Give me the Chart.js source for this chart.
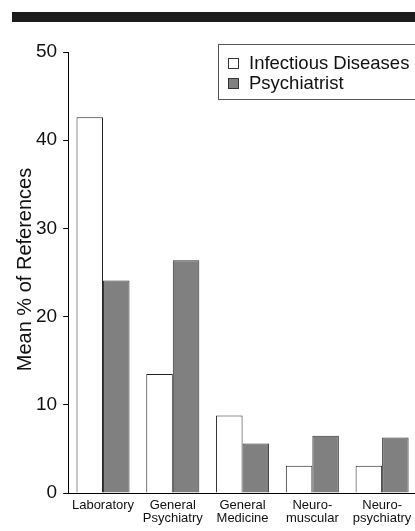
<!DOCTYPE html>
<html>
<head>
<meta charset="utf-8">
<script src="https://cdn.jsdelivr.net/npm/chart.js@4.4.1/dist/chart.umd.min.js"></script>
<style>
  html, body { margin:0; padding:0; background:#fff; overflow:hidden; }
  #wrap { position:relative; width:415px; height:531px; overflow:hidden; }
  #topbar { position:absolute; left:12px; top:12px; width:420px; height:10px; background:#1c1c1c; }
  #chart { position:absolute; left:0; top:0; }
</style>
</head>
<body>
<div id="wrap">
  <div id="topbar"></div>
  <canvas id="chart" width="440" height="531"></canvas>
</div>
<script>
// categories along the x axis (multi-line labels)
const categories = [
    ['Laboratory'],
    ['General', 'Psychiatry'],
    ['General', 'Medicine'],
    ['Neuro-', 'muscular'],
    ['Neuro-', 'psychiatry']
]
// mean % of references per speciality
const infectiousDiseases = [42.6, 13.5, 8.8, 3.1, 3.1]
const psychiatrist = [24.1, 26.4, 5.6, 6.5, 6.3]
// y axis range
const yMin = 0
const yMax = 50
const yStep = 10
const yTitle = 'Mean % of References'

const FONT = '"Liberation Sans", Arial, sans-serif'

// legend drawn as a bordered box in the top right,
// y axis title drawn rotated at a fixed x so it lines up with the original
const extras = {
    id: 'extras',
    afterDraw(chart) {
        const ctx = chart.ctx
        const area = chart.chartArea
        ctx.save()
        ctx.strokeStyle = '#555'
        ctx.lineWidth = 1
        ctx.strokeRect(218.5, 44.5, 260, 55)
        ctx.font = '18.5px ' + FONT
        ctx.textBaseline = 'middle'
        chart.data.datasets.forEach((ds, i) => {
            const y = 58 + i * 20
            ctx.fillStyle = ds.backgroundColor
            ctx.fillRect(228.5, y + 0.5, 10, 10)
            ctx.strokeStyle = '#333'
            ctx.strokeRect(228.5, y + 0.5, 10, 10)
            ctx.fillStyle = '#111'
            ctx.fillText(ds.label, 249, y + 6)
        })

        ctx.translate(25, (area.top + area.bottom) / 2 - 3)
        ctx.rotate(-Math.PI / 2)
        ctx.font = '20px ' + FONT
        ctx.textAlign = 'center'
        ctx.textBaseline = 'middle'
        ctx.fillStyle = '#111'
        ctx.fillText(yTitle, 0, 0)
        ctx.restore()
    }
}

const config = {
    type: 'bar',
    data: {
        labels: categories,
        datasets: [{
            label: 'Infectious Diseases',
            data: infectiousDiseases,
            backgroundColor: '#ffffff',
            borderColor: '#222',
            borderWidth: 1
        }, {
            label: 'Psychiatrist',
            data: psychiatrist,
            backgroundColor: '#808080',
            borderColor: '#333',
            borderWidth: 1
        }]
    },
    options: {
        responsive: false,
        animation: false,
        layout: {
            padding: { top: 52, right: 23, bottom: 0, left: 30 }
        },
        datasets: {
            bar: { categoryPercentage: 0.76, barPercentage: 1.0 }
        },
        scales: {
            x: {
                grid: { display: false, drawTicks: false },
                border: { display: true, color: '#000', width: 1 },
                ticks: {
                    color: '#111',
                    padding: 6,
                    maxRotation: 0,
                    autoSkip: false,
                    font: { family: FONT, size: 13, lineHeight: 1.0 }
                }
            },
            y: {
                min: yMin,
                max: yMax,
                grid: { drawOnChartArea: false, drawTicks: true, tickLength: 5, color: '#000' },
                border: { display: true, color: '#000', width: 1 },
                ticks: {
                    stepSize: yStep,
                    color: '#111',
                    padding: 6,
                    font: { family: FONT, size: 19 }
                }
            }
        },
        plugins: {
            legend: { display: false },
            tooltip: { enabled: false }
        }
    },
    plugins: [extras]
}

new Chart(document.getElementById('chart').getContext('2d'), config)
</script>
</body>
</html>
